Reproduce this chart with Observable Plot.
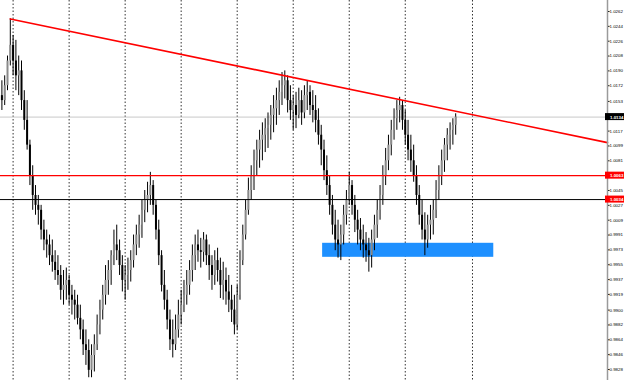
<!DOCTYPE html>
<html><head><meta charset="utf-8">
<script src="https://cdn.jsdelivr.net/npm/d3@7"></script>
<script src="https://cdn.jsdelivr.net/npm/@observablehq/plot@0.6"></script>
<style>html,body{margin:0;padding:0;background:#fff;overflow:hidden}</style>
</head><body><div id="chart"></div>
<script>
const firstOpen = 1.0160;
const high = [
1.0178,1.0184,1.0208,1.0253,1.0233,1.0227,1.0208,1.0202,1.0166,1.0154,
1.0106,1.0075,1.0051,1.0039,1.0027,1.0009,0.9997,0.9991,0.9985,0.9972,
0.9966,0.9954,0.9948,0.9951,0.9942,0.9930,0.9924,0.9918,0.9906,0.9888,
0.9876,0.9864,0.9858,0.9870,0.9894,0.9912,0.9930,0.9954,0.9960,0.9972,
0.9997,1.0003,0.9985,0.9966,0.9954,0.9963,0.9972,0.9991,1.0003,1.0015,
1.0033,1.0045,1.0055,1.0067,1.0057,1.0033,1.0009,0.9972,0.9948,0.9924,
0.9900,0.9888,0.9894,0.9912,0.9924,0.9936,0.9948,0.9960,0.9979,0.9991,
0.9997,0.9987,0.9994,0.9991,0.9979,0.9966,0.9972,0.9975,0.9963,0.9958,
0.9951,0.9942,0.9930,0.9918,0.9930,0.9972,1.0003,1.0033,1.0060,1.0075,
1.0094,1.0106,1.0118,1.0127,1.0132,1.0139,1.0148,1.0160,1.0169,1.0178,
1.0188,1.0190,1.0184,1.0172,1.0160,1.0164,1.0169,1.0166,1.0172,1.0178,
1.0172,1.0166,1.0160,1.0144,1.0124,1.0106,1.0087,1.0063,1.0039,1.0021,
1.0009,1.0003,1.0027,1.0045,1.0067,1.0057,1.0039,1.0021,1.0011,1.0003,
0.9994,0.9987,0.9997,1.0015,1.0033,1.0051,1.0075,1.0096,1.0112,1.0130,
1.0144,1.0154,1.0158,1.0154,1.0142,1.0130,1.0112,1.0100,1.0075,1.0051,
1.0033,1.0018,1.0015,1.0027,1.0033,1.0057,1.0075,1.0094,1.0108,1.0120,
1.0127,1.0132,1.0138];
const low = [
1.0142,1.0148,1.0166,1.0196,1.0184,1.0166,1.0160,1.0142,1.0118,1.0094,
1.0051,1.0021,1.0015,1.0003,0.9985,0.9972,0.9963,0.9954,0.9946,0.9936,
0.9930,0.9912,0.9906,0.9912,0.9906,0.9894,0.9888,0.9882,0.9864,0.9845,
0.9833,0.9818,0.9818,0.9825,0.9851,0.9870,0.9888,0.9906,0.9918,0.9930,
0.9954,0.9960,0.9942,0.9922,0.9912,0.9924,0.9934,0.9951,0.9966,0.9975,
0.9987,1.0006,1.0018,1.0027,1.0015,0.9985,0.9954,0.9922,0.9900,0.9876,
0.9851,0.9842,0.9851,0.9866,0.9882,0.9897,0.9906,0.9918,0.9934,0.9948,
0.9958,0.9951,0.9958,0.9954,0.9936,0.9924,0.9930,0.9934,0.9914,0.9912,
0.9906,0.9897,0.9885,0.9870,0.9876,0.9912,0.9954,0.9985,1.0015,1.0033,
1.0045,1.0063,1.0072,1.0081,1.0091,1.0096,1.0106,1.0115,1.0124,1.0136,
1.0148,1.0156,1.0139,1.0130,1.0118,1.0120,1.0132,1.0124,1.0132,1.0142,
1.0136,1.0127,1.0115,1.0100,1.0075,1.0057,1.0039,1.0015,0.9991,0.9972,
0.9963,0.9960,0.9979,1.0003,1.0027,1.0015,0.9994,0.9979,0.9972,0.9963,
0.9958,0.9946,0.9951,0.9972,0.9987,1.0009,1.0027,1.0051,1.0069,1.0087,
1.0106,1.0118,1.0127,1.0118,1.0100,1.0081,1.0067,1.0055,1.0027,1.0003,
0.9985,0.9966,0.9975,0.9985,0.9991,1.0011,1.0033,1.0051,1.0067,1.0081,
1.0094,1.0100,1.0112];
const close = [
1.0154,1.0172,1.0202,1.0221,1.0202,1.0184,1.0190,1.0154,1.0130,1.0100,
1.0063,1.0039,1.0027,1.0021,0.9997,0.9985,0.9979,0.9966,0.9958,0.9948,
0.9942,0.9924,0.9930,0.9936,0.9918,0.9912,0.9906,0.9890,0.9876,0.9858,
0.9851,0.9827,0.9845,0.9858,0.9882,0.9900,0.9918,0.9936,0.9948,0.9966,
0.9979,0.9972,0.9954,0.9936,0.9942,0.9948,0.9960,0.9979,0.9991,1.0003,
1.0021,1.0033,1.0039,1.0051,1.0027,0.9997,0.9966,0.9930,0.9912,0.9888,
0.9864,0.9858,0.9876,0.9894,0.9906,0.9918,0.9930,0.9948,0.9966,0.9979,
0.9972,0.9970,0.9985,0.9966,0.9954,0.9942,0.9960,0.9948,0.9930,0.9936,
0.9922,0.9912,0.9900,0.9882,0.9918,0.9960,0.9991,1.0021,1.0045,1.0063,
1.0081,1.0094,1.0106,1.0112,1.0120,1.0124,1.0136,1.0144,1.0154,1.0164,
1.0172,1.0178,1.0154,1.0142,1.0148,1.0136,1.0154,1.0139,1.0160,1.0164,
1.0148,1.0142,1.0130,1.0112,1.0094,1.0069,1.0051,1.0027,1.0003,0.9985,
0.9979,0.9991,1.0015,1.0033,1.0051,1.0027,1.0009,0.9997,0.9985,0.9979,
0.9972,0.9966,0.9985,1.0003,1.0021,1.0039,1.0063,1.0081,1.0100,1.0118,
1.0132,1.0142,1.0148,1.0130,1.0112,1.0094,1.0081,1.0063,1.0039,1.0015,
0.9997,0.9985,1.0003,1.0009,1.0021,1.0045,1.0063,1.0081,1.0100,1.0112,
1.0118,1.0124,1.0134];

const yTicks = [1.0262,1.0244,1.0226,1.0208,1.0190,1.0172,1.0153,1.0135,1.0117,1.0099,1.0081,1.0063,
  1.0045,1.0027,1.0009,0.9991,0.9973,0.9955,0.9937,0.9919,0.9900,0.9882,0.9864,0.9846,0.9828];
const gridIdx = [4, 24, 44, 64, 84, 104, 124, 144, 168];
const barsShown = 216.2;             // bar slots visible up to the price scale
const trend = [{i: 3, p: 1.0253}, {i: 216.2, p: 1.0103}];
const redLevel = 1.0063;
const darkLevel = 1.0034;
const lastPrice = 1.0134;
const zone = [{i1: 114.5, i2: 175.6, p1: 0.9964, p2: 0.9981}];
const priceLabels = [
  {p: lastPrice, bg: "#000000"},
  {p: redLevel, bg: "#ff0000"},
  {p: darkLevel, bg: "#ff0000"}
];

const candles = close.map((c, i) => ({
  i, open: i === 0 ? firstOpen : close[i - 1], close: c, high: high[i], low: low[i]
}));
const xMax = barsShown;

const chart = Plot.plot({
  width: 625, height: 380,
  marginLeft: 0, marginRight: 18, marginTop: 0, marginBottom: 0,
  style: {background: "#fff", fontFamily: "'Liberation Sans', Arial, sans-serif", overflow: "visible"},
  x: {domain: [-0.5, xMax], range: [0, 607], axis: null},
  y: {domain: [0.9828, 1.0262], range: [369, 11]},
  marks: [
    Plot.ruleX(gridIdx, {stroke: "#333", strokeWidth: 1, strokeDasharray: "1.5,2"}),
    Plot.ruleY([lastPrice], {stroke: "#c8c8c8", strokeWidth: 1}),
    Plot.rect(zone, {x1: "i1", x2: "i2", y1: "p1", y2: "p2", fill: "#1e90ff"}),
    Plot.ruleX(candles, {x: "i", y1: "low", y2: "high", stroke: "#000", strokeWidth: 1}),
    Plot.ruleX(candles, {x: "i", y1: "open", y2: "close",
      stroke: d => d.close >= d.open ? "#8a8a8a" : "#000", strokeWidth: 2}),
    Plot.ruleY([redLevel], {stroke: "#ff0000", strokeWidth: 1.2}),
    Plot.ruleY([darkLevel], {stroke: "#000", strokeWidth: 1}),
    Plot.line(trend, {x: "i", y: "p", stroke: "#ff0000", strokeWidth: 1.6}),
    Plot.axisY(yTicks, {anchor: "right", tickSize: 1.5, tickPadding: 0.5, fontSize: 4.4, label: null,
      tickFormat: d => d.toFixed(4), stroke: "#000", fill: "#000"}),
    Plot.ruleX([xMax], {stroke: "#9a9a9a", strokeWidth: 1.5}),
    Plot.rect(priceLabels, {x1: () => xMax, x2: () => xMax, y1: "p", y2: "p",
      insetLeft: -2, insetRight: -17, insetTop: -3.5, insetBottom: -3.5, fill: d => d.bg}),
    Plot.text(priceLabels, {x: () => xMax, y: "p", text: d => d.p.toFixed(4), dx: 2.5,
      textAnchor: "start", fill: "#fff", fontSize: 4.4, fontWeight: "bold"})
  ]
});
document.getElementById("chart").appendChild(chart);
</script>
</body></html>
